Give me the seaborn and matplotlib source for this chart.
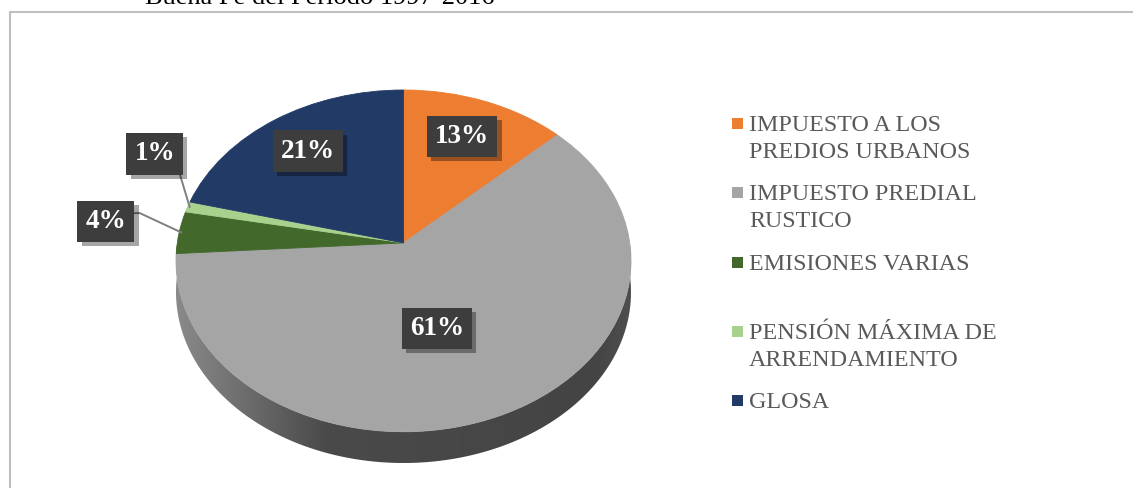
import numpy as np
import matplotlib
matplotlib.use('Agg')
import matplotlib.pyplot as plt
import matplotlib.patheffects as pe
import seaborn as sns
from matplotlib.patches import Rectangle, Polygon
from matplotlib.transforms import Transform
from matplotlib.colors import LinearSegmentedColormap

# ---------------- data ----------------
categories = ['IMPUESTO A LOS\nPREDIOS URBANOS', 'IMPUESTO PREDIAL\nRUSTICO',
              'EMISIONES VARIAS', 'PENSIÓN MÁXIMA DE\nARRENDAMIENTO', 'GLOSA']
shares = [13, 61, 4, 1, 21]
colors = ['#ED7D31', '#A5A5A5', '#43682B', '#A9D18E', '#213A66']
title_text = 'Buena Fe del Periodo 1997-2016'

# label layout (radius, angle shift in degrees, leader line?)
label_layout = [(0.73, 1, False), (0.50, -7, False), (1.34, -2, True),
                (1.29, -13, True), (0.73, 0, False)]
leader_relpos = [None, None, (1.0, 0.82), (1.0, 0.31), None]

sns.set_theme(style='white')
plt.rcParams['font.family'] = ['Liberation Serif', 'DejaVu Serif']

W, H = 1133, 488
fig = plt.figure(figsize=(W / 100, H / 100), dpi=100)


# simple perspective tilt for the pie surface
class Tilt(Transform):
    input_dims = 2
    output_dims = 2

    def __init__(self, k):
        super().__init__()
        self.k = k

    def transform_non_affine(self, xy):
        xy = np.asarray(xy, dtype=float)
        w = 1 + self.k * xy[:, 1]
        return np.column_stack([xy[:, 0] / w, xy[:, 1] / w])


k = 0.105
tilt = Tilt(k)
top_y = 1 / (1 + k)
front_y = -1 / (1 - k)
depth = 0.185
xmax = 1 / np.sqrt(1 - k ** 2)

# axes box in pixels
px_l, px_r, px_t, px_b = 176, 631, 90, 463
ax = fig.add_axes([px_l / W, (H - px_b) / H, (px_r - px_l) / W, (px_b - px_t) / H])
ax.set_axis_off()

# side wall of the 3D pie
t = np.linspace(np.pi, 2 * np.pi, 300)
rim = tilt.transform(np.column_stack([np.cos(t), np.sin(t)]))
side = np.vstack([rim, (rim - [0, depth])[::-1]])
poly = Polygon(side, closed=True, facecolor='none', edgecolor='none',
               transform=ax.transData)
ax.add_patch(poly)
side_cmap = LinearSegmentedColormap.from_list(
    'side', [(0, '#8a8a8a'), (0.33, '#4a4a4a'), (0.92, '#444444'), (1, '#4e4e4e')])
im = ax.imshow(np.linspace(0, 1, 256)[None, :], cmap=side_cmap, aspect='auto',
               extent=[-xmax, xmax, front_y - depth, 0.2], zorder=0)
im.set_clip_path(poly)

wedges, _ = ax.pie(shares, colors=colors, startangle=90, counterclock=False,
                   wedgeprops=dict(linewidth=0.6))
for w in wedges:
    w.set_edgecolor(w.get_facecolor())
    w.set_transform(tilt + ax.transData)
    w.set_zorder(2)

ax.set_aspect('auto')
ax.set_xlim(-xmax, xmax)
ax.set_ylim(front_y - depth, top_y)

# percentage labels
for w, val, (r, shift, leader), rel in zip(wedges, shares, label_layout, leader_relpos):
    mid = np.deg2rad((w.theta1 + w.theta2) / 2)
    ang = mid + np.deg2rad(shift)
    pos = tilt.transform([[r * np.cos(ang), r * np.sin(ang)]])[0]
    anchor = tilt.transform([[0.99 * np.cos(mid), 0.99 * np.sin(mid)]])[0]
    bbox = dict(boxstyle='square,pad=0.3', facecolor='#3d3d3d', edgecolor='none')
    if leader:
        conn = 'angle,angleA=0,angleB=155' if val == 4 else 'arc3'
        txt = ax.annotate(f'{val}%', xy=anchor, xytext=pos, ha='center', va='center',
                          fontsize=19.5, fontweight='bold', color='white', bbox=bbox,
                          annotation_clip=False, zorder=5,
                          arrowprops=dict(arrowstyle='-', color='#7f7f7f', lw=1.4,
                                          shrinkA=0, shrinkB=0, relpos=rel,
                                          connectionstyle=conn))
    else:
        txt = ax.text(pos[0], pos[1], f'{val}%', ha='center', va='center',
                      fontsize=19.5, fontweight='bold', color='white', bbox=bbox, zorder=5)
    txt.get_bbox_patch().set_path_effects(
        [pe.SimplePatchShadow(offset=(3, -3), shadow_rgbFace='black', alpha=0.35), pe.Normal()])

# legend (drawn by hand so markers sit on the first line)
leg_base, leg_step, line_gap = 131, 69.3, 27
for i, (name, c) in enumerate(zip(categories, colors)):
    base = leg_base + i * leg_step
    fig.add_artist(Rectangle((732 / W, (H - base + 2) / H), 11 / W, 11 / H,
                             transform=fig.transFigure, facecolor=c, edgecolor='none'))
    for j, line in enumerate(name.split('\n')):
        fig.text(749 / W, (H - base - j * line_gap) / H, line, fontsize=17.3,
                 color='#595959', ha='left', va='baseline')

# chart frame and the clipped caption above it
fig.add_artist(plt.Line2D([10.5 / W, 10.5 / W], [0, (H - 11.5) / H], color='#BFBFBF',
                          lw=1.5, transform=fig.transFigure))
fig.add_artist(plt.Line2D([10.5 / W, 1], [(H - 11.5) / H, (H - 11.5) / H], color='#BFBFBF',
                          lw=1.5, transform=fig.transFigure))
fig.text(145 / W, (H - 4) / H, title_text, fontsize=19, color='black',
         ha='left', va='baseline')

fig.savefig('out.png', dpi=100, facecolor='white')
